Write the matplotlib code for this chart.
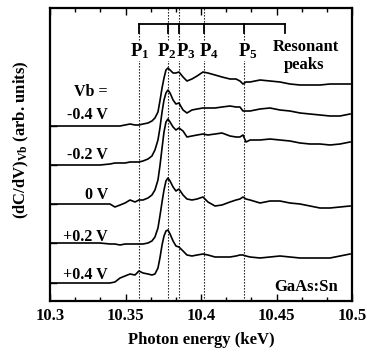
import matplotlib
matplotlib.use("Agg")
import matplotlib.pyplot as plt
from matplotlib.ticker import AutoMinorLocator, FixedLocator, FixedFormatter
import numpy as np

plt.rcParams['font.family'] = ['Liberation Serif', 'DejaVu Serif']
plt.rcParams['font.weight'] = 'bold'
plt.rcParams['mathtext.fontset'] = 'custom'
plt.rcParams['mathtext.rm'] = 'Liberation Serif:bold'
plt.rcParams['mathtext.bf'] = 'Liberation Serif:bold'
plt.rcParams['mathtext.it'] = 'Liberation Serif:bold'
plt.rcParams['mathtext.default'] = 'rm'

# ---------------- data ----------------
energy = [10.3000, 10.3199, 10.3331, 10.3397, 10.3430, 10.3464, 10.3497, 10.3530,
          10.3563, 10.3589, 10.3616, 10.3649, 10.3675, 10.3695, 10.3715, 10.3728,
          10.3742, 10.3755, 10.3768, 10.3781, 10.3795, 10.3815, 10.3834, 10.3854,
          10.3881, 10.3907, 10.3940, 10.3974, 10.4013, 10.4046, 10.4093, 10.4139,
          10.4192, 10.4232, 10.4258, 10.4278, 10.4298, 10.4325, 10.4391, 10.4457,
          10.4523, 10.4589, 10.4656, 10.4722, 10.4788, 10.4854, 10.4921, 10.4987]

sig_m04 = [0, 0, 0, 0, 0, 0, 1, 2, 1, 1, 2, 3, 5, 8, 14, 25, 38, 48, 56, 58, 56, 53, 53, 54,
           49, 45, 47, 50, 54, 53, 51, 49, 47, 47, 45, 42, 44, 44, 46, 45, 44, 42, 41, 41, 41, 42, 42, 42]
sig_m02 = [0, 0, 0, 1, 2, 2, 2, 3, 3, 3, 4, 6, 9, 15, 25, 37, 53, 65, 72, 75, 72, 65, 61, 62,
           55, 52, 55, 56, 57, 57, 57, 58, 59, 58, 58, 54, 54, 54, 56, 57, 55, 54, 52, 51, 50, 49, 49, 51]
sig_0 = [0, 0, 0, 0, -3, -1, 1, 4, 2, 4, 4, 6, 9, 14, 24, 38, 56, 72, 82, 85, 82, 77, 74, 76,
         73, 67, 68, 69, 70, 69, 70, 71, 68, 67, 67, 69, 62, 64, 64, 65, 64, 63, 61, 60, 60, 59, 60, 62]
sig_p02 = [0, 0, 0, -1, -1, -2, -1, -1, -1, -1, -1, 0, 2, 6, 15, 27, 41, 53, 62, 65, 62, 56, 52, 54,
           48, 44, 43, 44, 46, 41, 37, 38, 41, 43, 44, 46, 44, 43, 40, 42, 42, 40, 39, 37, 35, 35, 36, 37]
sig_p04 = [0, 0, 0, 0, 1, 5, 7, 9, 8, 12, 10, 9, 8, 9, 15, 25, 38, 47, 52, 53, 49, 42, 37, 36,
           32, 28, 27, 28, 29, 28, 26, 26, 26, 27, 28, 28, 27, 26, 25, 26, 27, 26, 25, 25, 25, 25, 27, 29]

bias_labels = ['-0.4 V', '-0.2 V', '0 V', '+0.2 V', '+0.4 V']
offsets = [175, 136, 97, 58, 18]
signals = [sig_m04, sig_m02, sig_0, sig_p02, sig_p04]

peak_names = [r'P$_1$', r'P$_2$', r'P$_3$', r'P$_4$', r'P$_5$']
peak_energies = [10.359, 10.378, 10.3855, 10.402, 10.4285]
peak_label_x = [10.3595, 10.3775, 10.3900, 10.4055, 10.4313]

xtick_values = [10.3, 10.35, 10.4, 10.45, 10.5]
xtick_labels = ['10.3', '10.35', '10.4', '10.45', '10.5']

# ---------------- figure ----------------
fig = plt.figure(figsize=(3.67, 3.54), dpi=100)
ax = fig.add_axes([50/367, 53/354, 302/367, 293/354])
ax.set_xlim(10.3, 10.5)
ax.set_ylim(0, 293)

for off, sig in zip(offsets, signals):
    ax.plot(energy, np.array(sig) + off, color='black', lw=1.2, solid_joinstyle='round')

# dotted peak lines
bracket_y = 277
for i, e in enumerate(peak_energies):
    top = 293 if i in (1, 2, 3) else bracket_y
    ax.plot([e, e], [0, top], color='black', lw=0.8, ls=(0, (1.2, 1.5)), zorder=1)

# bracket
bracket_end = 10.4556
ax.plot([peak_energies[0], bracket_end], [bracket_y, bracket_y], color='black', lw=1.3)
for e in peak_energies + [bracket_end]:
    ax.plot([e, e], [bracket_y, bracket_y - 9], color='black', lw=1.3)

for name, xl in zip(peak_names, peak_label_x):
    ax.text(xl, 250, name, ha='center', va='center', fontsize=13.5, fontweight='bold',
            bbox=dict(facecolor='white', edgecolor='none', pad=0.1), zorder=3)
ax.text(10.4695, 254, 'Resonant', ha='center', va='center', fontsize=12, fontweight='bold')
ax.text(10.4680, 236, 'peaks', ha='center', va='center', fontsize=12, fontweight='bold')

# bias labels
label_h = [186, 146, 106, 64, 26]
for lab, h in zip(bias_labels, label_h):
    ax.text(10.3384, h, lab, ha='right', va='center', fontsize=11.5, fontweight='bold')
ax.text(10.3384, 209, 'Vb =', ha='right', va='center', fontsize=11.5, fontweight='bold')
ax.text(10.4907, 14, 'GaAs:Sn', ha='right', va='center', fontsize=12, fontweight='bold')

# axes styling
for s in ax.spines.values():
    s.set_linewidth(1.6)
ax.xaxis.set_major_locator(FixedLocator(xtick_values))
ax.xaxis.set_major_formatter(FixedFormatter(xtick_labels))
ax.xaxis.set_minor_locator(AutoMinorLocator(3))
ax.tick_params(axis='x', which='both', direction='in', top=True, bottom=True, width=1.0)
ax.tick_params(axis='x', which='major', length=5, labelsize=12, pad=5)
ax.tick_params(axis='x', which='minor', length=3)
ax.set_yticks(offsets)
ax.tick_params(axis='y', which='both', direction='in', left=True, right=False,
               labelleft=False, length=5, width=1.0)
for lbl in ax.get_xticklabels():
    lbl.set_fontweight('bold')

ax.set_xlabel('Photon energy (keV)', fontsize=12, fontweight='bold', labelpad=6)
ax.set_ylabel(r'(dC/dV)$_{\mathrm{Vb}}$ (arb. units)', fontsize=12, fontweight='bold')
ax.yaxis.set_label_coords(-0.062, 0.55)

fig.savefig('out.png', dpi=100)
